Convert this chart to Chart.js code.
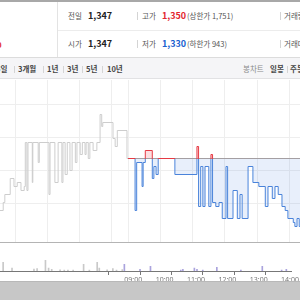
<!DOCTYPE html>
<html><head><meta charset="utf-8">
<script src="https://cdn.jsdelivr.net/npm/chart.js@4.4.1/dist/chart.umd.min.js"></script>
<style>
html,body{margin:0;padding:0;width:300px;height:300px;overflow:hidden;background:#fff;font-family:"Noto Sans CJK KR","Noto Sans",sans-serif;}
.t{position:absolute;height:12px;line-height:12px;white-space:nowrap;}
.lab{font-size:7.5px;color:#555;}
.num{font-size:9px;font-weight:700;color:#222;}
.sep{position:absolute;width:1px;background:#d4d4d4;}
.tab{position:absolute;height:12px;line-height:12px;white-space:nowrap;font-size:7.5px;font-weight:700;color:#444;top:63px;}
canvas{position:absolute;left:0;}
</style></head><body>
<!-- header -->
<div style="position:absolute;left:0;top:0;width:300px;height:2px;background:#a8a8a8"></div>
<div style="position:absolute;left:57px;top:2px;width:1px;height:55px;background:#e3e3e3"></div>
<div style="position:absolute;left:58px;top:30px;width:242px;height:1px;background:#ececec"></div>
<div style="position:absolute;left:0;top:57px;width:300px;height:1px;background:#dcdcdc"></div>
<div class="t" style="left:-9px;top:36px;height:14px;line-height:14px;font-size:11px;font-weight:700;color:#e2262e">%</div>
<div class="t lab" style="left:68px;top:9.5px">전일</div>
<div class="t num" style="left:88px;top:9.5px">1,347</div>
<div class="sep" style="left:137px;top:12px;height:8px"></div>
<div class="t lab" style="left:142px;top:9.5px">고가</div>
<div class="t num" style="left:162px;top:9.5px;color:#e2262e">1,350</div>
<div class="t lab" style="left:187px;top:9.5px">(상한가 1,751)</div>
<div class="sep" style="left:280px;top:12px;height:8px"></div>
<div class="t lab" style="left:284px;top:9.5px">거래량</div>
<div class="t lab" style="left:68px;top:38px">시가</div>
<div class="t num" style="left:88px;top:38px">1,347</div>
<div class="sep" style="left:137px;top:40px;height:8px"></div>
<div class="t lab" style="left:142px;top:38px">저가</div>
<div class="t num" style="left:162px;top:38px;color:#1a5fd0">1,330</div>
<div class="t lab" style="left:187px;top:38px">(하한가 943)</div>
<div class="sep" style="left:280px;top:40px;height:8px"></div>
<div class="t lab" style="left:284px;top:38px">거래대금</div>
<!-- tab row -->
<div style="position:absolute;left:0;top:58px;width:300px;height:20px;background:#f5f5f7;border-bottom:1px solid #e2e2e4"></div>
<div class="tab" style="left:-4px">5일</div>
<div class="sep" style="left:14px;top:66px;height:7px"></div>
<div class="tab" style="left:18px">3개월</div>
<div class="sep" style="left:43px;top:66px;height:7px"></div>
<div class="tab" style="left:47px">1년</div>
<div class="sep" style="left:63px;top:66px;height:7px"></div>
<div class="tab" style="left:67px">3년</div>
<div class="sep" style="left:82px;top:66px;height:7px"></div>
<div class="tab" style="left:86px">5년</div>
<div class="sep" style="left:102px;top:66px;height:7px"></div>
<div class="tab" style="left:107px">10년</div>
<div class="tab" style="left:243px;font-weight:400;color:#8a8a8a">봉차트</div>
<div class="tab" style="left:270px">일봉</div>
<div class="sep" style="left:287px;top:66px;height:7px"></div>
<div class="tab" style="left:290px">주봉</div>

<canvas id="price" width="300" height="163" style="top:80px;width:300px;height:163px"></canvas>
<canvas id="vol" width="300" height="41" style="top:243px;width:300px;height:41px"></canvas>
<div style="position:absolute;left:0;top:281px;width:300px;height:19px;background:#c7c7c7;border-top:1px solid #b8b8b8;z-index:5"></div>

<script>
// ---- data ----
const prevClose = 1347;
const sessionShift = 390;            // previous day 15:30 is drawn where today 09:00 starts
const viewStartPrev = '11:32';       // left edge (previous day clock)
const viewEnd = '14:19';             // right edge (today clock)

const prevTimes = ['11:25','11:32','11:38','11:41','11:51','11:58','12:04','12:11','12:17','12:19','12:22','12:24','12:32','12:33','12:43','12:45','13:03','13:05','13:14','13:20','13:27','13:29','13:33','13:37','13:42','13:46','13:52','13:55','14:01','14:05','14:10','14:12','14:16','14:19','14:25','14:32','14:38','14:41','14:43','15:02','15:06','15:10','15:28','15:30'];
const prevPrices = [1334,1334,1336,1338,1342,1340,1341,1339,1340,1351,1339,1351,1341,1351,1346,1351,1338,1351,1341,1351,1341,1351,1343,1351,1344,1351,1346,1351,1348,1351,1348,1351,1347,1351,1349,1351,1358,1355,1356,1352,1350,1354,1347,1347];

const todayTimes = ['09:00','09:13','09:16','09:26','09:28','09:32','09:45','09:48','09:52','09:56','10:27','11:08','11:11','11:15','11:19','11:23','11:30','11:34','11:37','11:43','11:49','11:55','12:02','12:05','12:15','12:23','12:28','12:32','12:43','12:52','13:03','13:15','13:20','13:28','13:33','13:39','13:46','13:52','13:57','14:07','14:10','14:14','14:18','14:29'];
const todayPrices = [1347,1334,1346,1340,1346,1349,1342,1345,1343,1347,1343,1350,1335,1345,1335,1345,1335,1348,1336,1335,1336,1332,1345,1332,1339,1332,1338,1332,1345,1341,1340,1335,1340,1337,1340,1338,1335,1334,1332,1331,1330,1332,1330,1331];

const volPrevTimes = ['11:38','11:55','12:37','12:43','12:59','13:05','13:11','13:27','13:35','13:42','13:52','14:12','14:23','14:38','14:42','14:57','15:08','15:15','15:26'];
const volPrevValues = [31000,10000,7000,9000,38000,10000,6000,4000,3000,3000,3000,24000,3000,31000,10000,4000,9000,3000,5000];
const volTodayTimes = ['09:00','09:30','09:50','10:48','10:52','11:14','11:19','11:30','11:57','12:43','13:24','14:01','14:10'];
const volTodayValues = [24000,6000,17000,3000,6000,10000,6000,3000,13000,3000,17000,3000,6000];
const volMax = 100000;

const prevGridTimes = ['12:00','13:00','14:00','15:00'];
const todayTickLabels = ['09:00','10:00','11:00','12:00','13:00','14:00'];
const priceGridValues = [1335.875,1344.125,1352.375,1360.625];
const priceMin = 1326.125, priceMax = 1366.625;

// ---- helpers ----
const toMin = s => { const [h,m] = s.split(':').map(Number); return h*60+m; };
const xMin = toMin(viewStartPrev) - sessionShift;
const xMax = toMin(viewEnd) + 0.5;
const gridX = prevGridTimes.map(t => toMin(t) - sessionShift).concat(todayTickLabels.map(toMin));

const prevPts = prevTimes.map((t,i) => ({x: toMin(t) - sessionShift, y: prevPrices[i]}));
const todayPts = todayTimes.map((t,i) => ({x: toMin(t), y: todayPrices[i]}));
const basePts = [{x: toMin(todayTimes[0]), y: prevClose}, {x: toMin(todayTimes[todayTimes.length-1]), y: prevClose}];

const RED = '#e53a44', BLUE = '#4a84da';

const sidePlugin = {
  id: 'sideClip',
  beforeDatasetDraw(chart, args) {
    const side = chart.data.datasets[args.index].side;
    if (!side) return;
    const yb = Math.floor(chart.scales.y.getPixelForValue(prevClose)) + 1;
    const a = chart.chartArea, ctx = chart.ctx;
    ctx.save(); ctx.beginPath();
    if (side === 'up') ctx.rect(a.left, a.top, a.right - a.left, yb - a.top);
    else ctx.rect(a.left, yb, a.right - a.left, a.bottom - yb);
    ctx.clip();
  },
  afterDatasetDraw(chart, args) {
    if (chart.data.datasets[args.index].side) chart.ctx.restore();
  }
};

new Chart(document.getElementById('price'), {
  type: 'line',
  data: { datasets: [
    { data: todayPts, side: 'up', stepped: true, borderColor: RED, borderWidth: 1, pointRadius: 0,
      fill: {target: {value: prevClose}, above: 'rgba(240,90,100,0.2)', below: 'rgba(80,135,225,0.13)'}, order: 0 },
    { data: todayPts, side: 'down', stepped: true, borderColor: BLUE, borderWidth: 1, pointRadius: 0,
      fill: false, order: 0 },
    { data: prevPts, stepped: true, borderColor: '#cdcdcd', borderWidth: 1, pointRadius: 0, fill: false, order: 1 },
    { data: basePts, borderColor: '#a4a4a4', borderWidth: 1, pointRadius: 0, fill: false, order: 5 }
  ]},
  options: {
    responsive: false, animation: false, events: [],
    layout: { autoPadding: false, padding: {bottom: 1} },
    plugins: { legend: {display: false}, tooltip: {enabled: false} },
    scales: {
      x: { type: 'linear', min: xMin, max: xMax, ticks: {display: false},
           grid: {color: '#eeeeee', drawTicks: false}, border: {display: true, color: '#b4b4b4'},
           afterBuildTicks: s => { s.ticks = gridX.map(v => ({value: v})); } },
      y: { type: 'linear', min: priceMin, max: priceMax, ticks: {display: false},
           grid: {color: '#eeeeee', drawTicks: false}, border: {display: false},
           afterBuildTicks: s => { s.ticks = priceGridValues.map(v => ({value: v})); } }
    }
  },
  plugins: [sidePlugin]
});

const volPrevPts = volPrevTimes.map((t,i) => ({x: toMin(t) - sessionShift, y: volPrevValues[i]}));
const volTodayPts = volTodayTimes.map((t,i) => ({x: toMin(t), y: volTodayValues[i]}));

new Chart(document.getElementById('vol'), {
  type: 'bar',
  data: { datasets: [
    { data: volPrevPts, backgroundColor: '#c9c9c9', barThickness: 1, grouped: false },
    { data: volTodayPts, backgroundColor: '#aaa3dd', barThickness: 1, grouped: false }
  ]},
  options: {
    responsive: false, animation: false, events: [],
    layout: { autoPadding: false, padding: 0 },
    plugins: { legend: {display: false}, tooltip: {enabled: false} },
    scales: {
      x: { type: 'linear', min: xMin, max: xMax, offset: false,
           ticks: { display: true, autoSkip: false, maxRotation: 0, align: 'start', padding: 1,
                    color: '#777', font: {size: 7, family: 'Noto Sans', lineHeight: 1},
                    callback: (v, i) => todayTickLabels[i] },
           grid: { drawOnChartArea: false, drawTicks: true, tickLength: 4, color: '#777' },
           border: { display: true, color: '#777' },
           afterBuildTicks: s => { s.ticks = todayTickLabels.map(t => ({value: toMin(t)})); } },
      y: { display: false, min: 0, max: volMax }
    }
  }
});
</script>
</body></html>
